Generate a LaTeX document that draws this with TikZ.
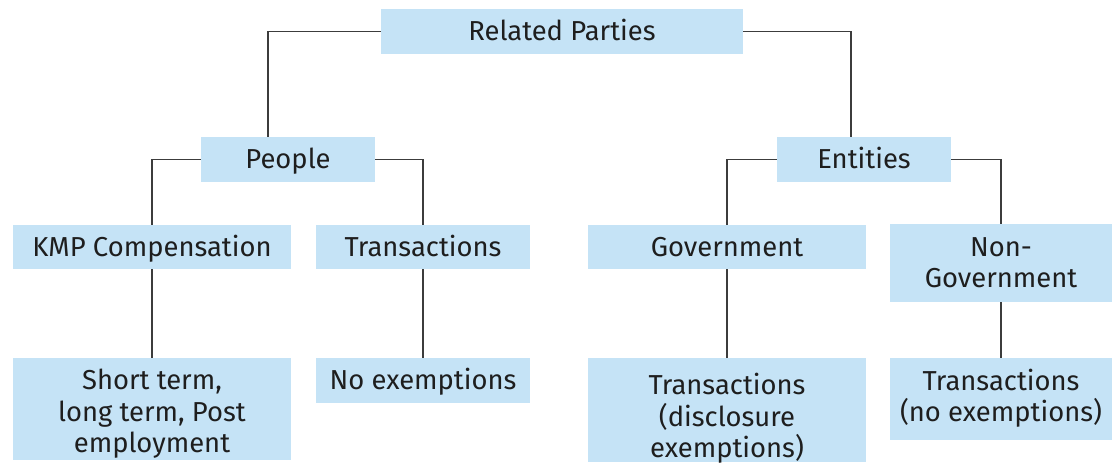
\documentclass[tikz,border=0pt]{standalone}
\usepackage{fontspec}
\setmainfont{Fira Sans}
\definecolor{boxblue}{RGB}{197,227,246}
\definecolor{inkgray}{RGB}{30,30,30}
\definecolor{linegray}{RGB}{60,60,60}

\begin{document}
\begin{tikzpicture}[x=0.5pt, y=-0.5pt,
    box/.style={rectangle, fill=boxblue, inner sep=0pt, align=center, text=inkgray,
      text height=9.5pt, text depth=0pt,
      font=\fontsize{13.7pt}{15.75pt}\selectfont},
    link/.style={draw=linegray, line width=0.6pt}]
  \useasboundingbox (0,0) rectangle (1116,464);
  % top level
  \node[box, minimum width=181pt, minimum height=22.5pt] (rp) at (562,31.5) {Related Parties};
  % second level
  \node[box, minimum width=87pt, minimum height=22.5pt] (people) at (288,159.5) {People};
  \node[box, minimum width=87pt, minimum height=22.5pt] (entities) at (864,159.5) {Entities};
  % third level
  \node[box, minimum width=139pt, minimum height=22pt] (kmp) at (152,247) {KMP Compensation};
  \node[box, minimum width=107pt, minimum height=22pt] (ptrans) at (423,247) {Transactions};
  \node[box, minimum width=139pt, minimum height=22pt] (gov) at (727,247) {Government};
  \node[box, minimum width=111pt, minimum height=39pt, text height=25pt] (nongov) at (1001,263) {Non-\\Government};
  % bottom level
  \node[box, minimum width=139pt, minimum height=51pt, text height=44pt] (short) at (152,409) {Short term,\\long term, Post\\employment};
  \node[box, minimum width=107pt, minimum height=22.5pt] (noex) at (423,380.5) {No exemptions};
  \node[box, minimum width=139pt, minimum height=52pt, text height=48pt] (govtr) at (727,410) {Transactions\\(disclosure\\exemptions)};
  \node[box, minimum width=111pt, minimum height=41pt, text height=23pt] (ngtr) at (1001,399) {Transactions\\(no exemptions)};

  \draw[link] (rp.west) -| ([xshift=-10pt]people.north);
  \draw[link] (rp.east) -| ([xshift=-6.5pt]entities.north);
  \draw[link] (people.west) -| (kmp.north);
  \draw[link] (people.east) -| (ptrans.north);
  \draw[link] (entities.west) -| (gov.north);
  \draw[link] (entities.east) -| (nongov.north);
  \draw[link] (kmp.south) -- (short.north);
  \draw[link] (ptrans.south) -- (noex.north);
  \draw[link] (gov.south) -- (govtr.north);
  \draw[link] (nongov.south) -- (ngtr.north);
\end{tikzpicture}
\end{document}
